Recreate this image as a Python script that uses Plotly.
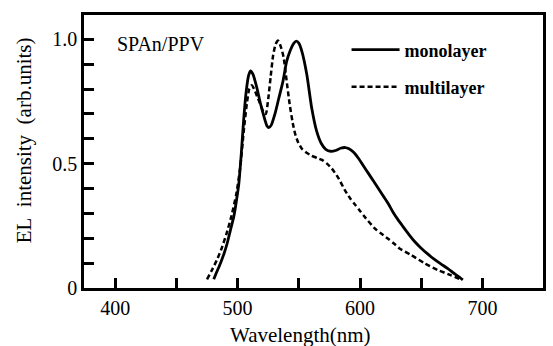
import plotly.graph_objects as go

# ---- data ----
mono_wl = [480.5, 483, 486, 489, 491.5, 494, 497, 499, 501, 503, 505, 507, 509, 510.5,
           512.5, 515.5, 518.5, 521.5, 524, 525.5, 527.5, 530.5, 533.5, 537, 540, 543,
           546, 548, 550, 552.5, 556.5, 560.5, 564.5, 568.5, 572, 576, 580, 584, 588,
           591, 595, 599, 603, 607, 611, 615, 619, 623, 627, 631, 635, 640, 645, 650,
           655, 660, 666, 671.5, 676, 680, 684]
mono_val = [0.035, 0.065, 0.10, 0.14, 0.18, 0.23, 0.29, 0.35, 0.42, 0.54, 0.68, 0.79,
            0.855, 0.873, 0.86, 0.81, 0.745, 0.69, 0.652, 0.645, 0.655, 0.70, 0.76,
            0.83, 0.91, 0.955, 0.985, 0.993, 0.985, 0.952, 0.86, 0.725, 0.632, 0.58,
            0.558, 0.55, 0.553, 0.562, 0.565, 0.56, 0.545, 0.52, 0.49, 0.46, 0.43,
            0.40, 0.37, 0.34, 0.305, 0.275, 0.248, 0.215, 0.185, 0.16, 0.138, 0.118,
            0.097, 0.079, 0.062, 0.048, 0.033]

multi_wl = [475, 479, 483, 487, 491, 495, 499, 502, 505, 507.5, 509.5, 511.5, 513.5,
            516, 518.5, 521, 523, 525, 527, 529, 531, 533, 535, 537.5, 540, 542.5,
            545, 547, 549.5, 552.5, 556, 560.5, 565, 569, 573, 577, 582, 587.5, 592,
            596, 600, 604, 612, 617, 623, 628, 632, 642, 652.5, 663.5, 674, 682]
multi_val = [0.035, 0.072, 0.112, 0.16, 0.22, 0.29, 0.38, 0.48, 0.63, 0.74, 0.80,
             0.815, 0.80, 0.77, 0.74, 0.71, 0.70, 0.76, 0.85, 0.935, 0.98, 0.995,
             0.975, 0.93, 0.835, 0.74, 0.665, 0.62, 0.585, 0.56, 0.545, 0.532, 0.523,
             0.515, 0.50, 0.48, 0.445, 0.395, 0.36, 0.335, 0.31, 0.285, 0.24, 0.22,
             0.198, 0.178, 0.16, 0.132, 0.10, 0.072, 0.052, 0.035]

x_tickvals = [400, 450, 500, 550, 600, 650, 700]
x_ticktext = ["400", "", "500", "", "600", "", "700"]
y_tickvals = [0, 0.1, 0.2, 0.3, 0.4, 0.5, 0.6, 0.7, 0.8, 0.9, 1.0]
y_ticktext = ["0", "", "", "", "", "0.5", "", "", "", "", "1.0"]

FONT = "Liberation Serif, Times New Roman, serif"

fig = go.Figure()
fig.add_trace(go.Scatter(
    x=mono_wl, y=mono_val, mode="lines", name="<b>monolayer</b>",
    line=dict(color="black", width=2.8, shape="spline", smoothing=0.6),
    legend="legend"))
fig.add_trace(go.Scatter(
    x=multi_wl, y=multi_val, mode="lines", name="<b>multilayer</b>",
    line=dict(color="black", width=2.5, dash="5px,3px", shape="spline", smoothing=0.6),
    legend="legend2"))

axis_common = dict(
    showgrid=False, zeroline=False, showline=True, linecolor="black", linewidth=2.5,
    mirror=True, ticks="inside", ticklen=10, tickwidth=2.5, tickcolor="black",
    tickfont=dict(family=FONT, size=20, color="black"),
)

fig.update_xaxes(range=[374.5, 749.5], tickmode="array", tickvals=x_tickvals,
                 ticktext=x_ticktext, **axis_common)
fig.update_yaxes(range=[0, 1.098], tickmode="array", tickvals=y_tickvals,
                 ticktext=y_ticktext, **axis_common)

legend_common = dict(
    xanchor="left", yanchor="middle", bgcolor="rgba(0,0,0,0)", borderwidth=0,
    font=dict(family=FONT, size=18, color="black"), itemwidth=48,
)

fig.update_layout(
    width=553, height=346,
    margin=dict(l=84, r=7, t=15, b=58),
    paper_bgcolor="white", plot_bgcolor="white",
    showlegend=True,
    legend=dict(x=0.572, y=0.872, **legend_common),
    legend2=dict(x=0.572, y=0.736, **legend_common),
    annotations=[
        dict(text="SPAn/PPV", xref="paper", yref="paper", x=0.067, y=0.894,
             xanchor="left", yanchor="middle", showarrow=False,
             font=dict(family=FONT, size=20, color="black")),
        dict(text="Wavelength(nm)", xref="paper", yref="paper", x=0.472, y=-0.172,
             xanchor="center", yanchor="middle", showarrow=False,
             font=dict(family=FONT, size=21, color="black")),
        dict(text="EL&nbsp; intensity&nbsp; (arb.units)", xref="paper", yref="paper",
             x=-0.13, y=0.542, xanchor="center", yanchor="middle", showarrow=False,
             textangle=-90, font=dict(family=FONT, size=21, color="black")),
    ],
)

fig.write_html("out.html")
